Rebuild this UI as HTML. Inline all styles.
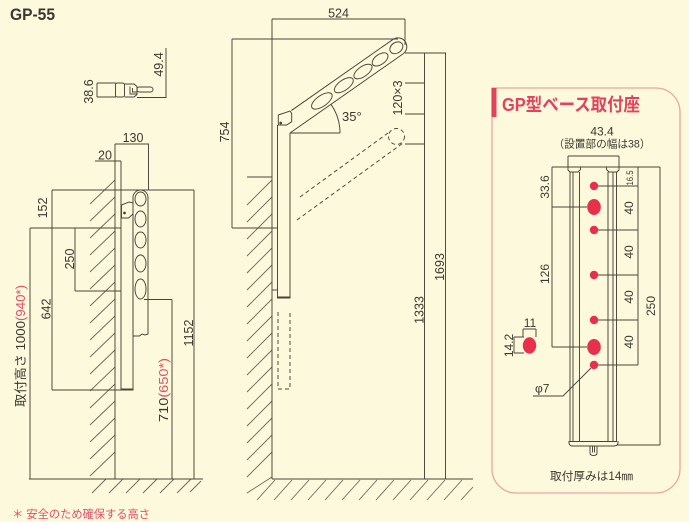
<!DOCTYPE html>
<html><head><meta charset="utf-8"><style>
html,body{margin:0;padding:0;background:#fdf9dd;}
svg{display:block;}
text{font-family:"Liberation Sans","Noto Sans CJK JP",sans-serif;fill:#3b3830;}
</style></head><body>
<svg xmlns="http://www.w3.org/2000/svg" width="689" height="522" viewBox="0 0 689 522">
<rect width="689" height="522" fill="#fdf9dd"/>
<text x="10" y="20" font-size="17" font-weight="bold" textLength="45" lengthAdjust="spacingAndGlyphs">GP-55</text>

<!-- hatching -->
<g stroke="#6e6656" stroke-width="0.9" fill="none">
<path d="M90 204L115 180M90 221L115 197M90 238L115 214M90 255L115 231M90 272L115 248M90 289L115 265M90 306L115 282M90 323L115 299M90 340L115 316M90 357L115 333M90 374L115 350M90 391L115 367M90 408L115 384M90 425L115 401M90 442L115 418M90 459L115 435M90 476L115 452M92 493L106 479M109 493L123 479M126 493L140 479M143 493L157 479M160 493L174 479M177 493L191 479M190 492L201 481"/>
<path d="M247 205L272 180M247 222L272 197M247 239L272 214M247 256L272 231M247 273L272 248M247 290L272 265M247 307L272 282M247 324L272 299M247 341L272 316M247 358L272 333M247 375L272 350M247 392L272 367M247 409L272 384M247 426L272 401M247 443L272 418M247 460L272 435M247 477L272 452M247 493L272 477M257 500L275 480M274 500L292 480M291 500L309 480M308 500L326 480M325 500L343 480M342 500L360 480M359 500L377 480M376 500L394 480M393 500L411 480M410 500L428 480M427 500L445 480M444 500L462 480M461 500L473 487"/>
</g>

<g stroke="#4a4438" stroke-width="0.95" fill="none">
<!-- top small bracket -->
<path d="M97 83V97M97 83H116M97 97H116"/>
<rect x="115.5" y="83" width="9" height="14" rx="2"/>
<path d="M124.5 84H134L137 86.5V94.5L134 97H124.5"/>
<path d="M130 86.5V94H137M132.5 88V92H137"/>
<rect x="137" y="87" width="16" height="5" rx="2.5"/>
<path d="M137 97.5H166M166 48V98"/>

<!-- left elevation -->
<path d="M115 144V479M115 144H149M148.5 144V190"/>
<path d="M95 161H121M121 161V390"/>
<path d="M52 190H194M30 228H121M75 291H121M52 390H133"/>
<path d="M30 228V479M52 190V390M75 228V291"/>
<path d="M144 299.5H172M172 299.5V479M194 190V479"/>
<path d="M29 479H203"/>
<path d="M133 218V390"/>
<path d="M121 389.5H133.5" stroke-width="2"/>
<path d="M133 336V197.5A7.5 7.5 0 0 1 148 197.5V334L145 335L142 334L139.5 336Z"/>
<ellipse cx="140.5" cy="199" rx="5.5" ry="7"/>
<ellipse cx="140.5" cy="219" rx="5.5" ry="8"/>
<ellipse cx="140.5" cy="240" rx="5.5" ry="8"/>
<ellipse cx="140.5" cy="263.5" rx="5.5" ry="8.5"/>
<ellipse cx="140.5" cy="289" rx="5.5" ry="10"/>
<path d="M121.5 205L129 202L133 203V214L128.5 218H121.5Z" fill="#fdf9dd"/>
<circle cx="124.5" cy="213" r="0.9" fill="#4a4438"/>
<path d="M115 228H121M115 291H121"/>

<!-- middle elevation -->
<path d="M272 19H405M272 19V479M405 19V45"/>
<path d="M232 39H398M232 39V228M232 228H277.5"/>
<path d="M247 177H272"/>
<path d="M272 479H473"/>
<path d="M405 53H446M445.5 53V479M405 83H424.5M405 114H424.5M405 144H424.5M424.5 53V479"/>
<path d="M277.5 125V298M290 133V298"/>
<path d="M277 297.5H290.5" stroke-width="2"/>
<path d="M272 290H277.5"/>
<path d="M278 312V389H290V312" stroke-dasharray="4 3"/>
<g transform="translate(290 133) rotate(-35)">
<path d="M0 0H138A8.8 8.8 0 0 0 138 -17.6H14"/>
<ellipse cx="44.5" cy="-8" rx="12" ry="5.4"/>
<ellipse cx="71.5" cy="-8.3" rx="11" ry="5.1"/>
<ellipse cx="95" cy="-8.5" rx="10.5" ry="5"/>
<ellipse cx="116" cy="-8.6" rx="9" ry="5"/>
<ellipse cx="136" cy="-8.8" rx="7" ry="5.3"/>
</g>
<path d="M278.3 115L290 111L291.7 113.3V121.7L286.7 125H278.3Z" fill="#fdf9dd"/>
<circle cx="280.7" cy="123" r="0.9" fill="#4a4438"/>
<path d="M290 133H340"/>
<path d="M340 133A50 50 0 0 0 331 104.3"/>
<g stroke-dasharray="4 3">
<path d="M300 197L388 133"/>
<path d="M297 220L403 143"/>
<circle cx="396.5" cy="136.5" r="8"/>
</g>

<!-- right panel: base plate -->
<path d="M568 156H619M568 156V167M619 156V167"/>
<path d="M552 167H660"/>
<path d="M568 167V170L570 172H578L580.5 169.5V167M619 167V170L617 172H609L606.5 169.5V167"/>
<path d="M570 172V442M573 172V442M579.5 172V441.5M608 172V441.5M613 172V442M616.5 172V442"/>
<path d="M570 441.5H617"/>
<path d="M569 441Q568.5 446 572.5 446H614Q618.5 446 618 441"/>
<path d="M590 446V453Q590 455.5 593.5 455.5Q597 455.5 597 453V446M592.5 446V452.5M594.5 446V452.5"/>
<path d="M552 167V347M552 207H587M552 347H587"/>
<path d="M638 167V365M594 186H638M594 230H638M594 275H638M594 320H638M594 365H638"/>
<path d="M660 167V445M617 445H660"/>
<path d="M533 396H563L591 368"/>
<path d="M523 329H536M523 329V337M536 329V337"/>
<path d="M514 337V353M514 337H524M514 353H524"/>
</g>

<!-- right panel frame -->
<path d="M492 88H656A24 24 0 0 1 680 112V469A24 24 0 0 1 656 493H516A24 24 0 0 1 492 469V88Z" stroke="#eba6a2" stroke-width="1.3" fill="none"/>
<rect x="491.5" y="88" width="5" height="29" fill="#e3425e"/>
<text x="502" y="111" font-size="18" font-weight="bold" fill="#e3425e" style="fill:#e3425e" textLength="138" lengthAdjust="spacingAndGlyphs">GP型ベース取付座</text>

<!-- red holes -->
<g fill="#e8304c">
<circle cx="594" cy="186" r="4.2"/>
<circle cx="594" cy="230" r="4.2"/>
<circle cx="594" cy="275" r="4.2"/>
<circle cx="594" cy="320" r="4.2"/>
<circle cx="594" cy="365" r="4.2"/>
<ellipse cx="594" cy="207" rx="6.8" ry="8"/>
<ellipse cx="594" cy="347" rx="6.8" ry="8"/>
<ellipse cx="529.5" cy="345.5" rx="6.7" ry="8.2"/>
</g>

<!-- labels left -->
<g font-size="12.5">
<text transform="translate(93 91.5) rotate(-90)" text-anchor="middle">38.6</text>
<text transform="translate(163 64.5) rotate(-90)" text-anchor="middle">49.4</text>
<text x="133" y="142" text-anchor="middle">130</text>
<text x="105" y="159.5" text-anchor="middle">20</text>
<text transform="translate(47 208) rotate(-90)" text-anchor="middle">152</text>
<text transform="translate(74 259) rotate(-90)" text-anchor="middle">250</text>
<text transform="translate(50.5 309) rotate(-90)" text-anchor="middle">642</text>
<text transform="translate(193 333) rotate(-90)" text-anchor="middle">1152</text>
<text transform="translate(168 390) rotate(-90)" text-anchor="middle" textLength="64" lengthAdjust="spacingAndGlyphs">710<tspan style="fill:#e05068">(650*)</tspan></text>
<text transform="translate(25 346) rotate(-90)" text-anchor="middle" textLength="122" lengthAdjust="spacingAndGlyphs">取付高さ 1000<tspan style="fill:#e05068">(940*)</tspan></text>
<text x="338.5" y="17.5" text-anchor="middle">524</text>
<text transform="translate(229 132) rotate(-90)" text-anchor="middle">754</text>
<text x="342" y="121" font-size="13">35°</text>
<text transform="translate(402 98) rotate(-90)" text-anchor="middle">120×3</text>
<text transform="translate(423.5 310) rotate(-90)" text-anchor="middle">1333</text>
<text transform="translate(444 267) rotate(-90)" text-anchor="middle">1693</text>
</g>
<text x="12" y="518" font-size="11.5" style="fill:#e05068" textLength="138" lengthAdjust="spacingAndGlyphs">＊ 安全のため確保する高さ</text>

<!-- labels right -->
<g font-size="12">
<text x="602" y="135.5" text-anchor="middle">43.4</text>
<text x="602" y="147.5" text-anchor="middle" font-size="11" textLength="97" lengthAdjust="spacingAndGlyphs">（設置部の幅は38）</text>
<text transform="translate(549 187) rotate(-90)" text-anchor="middle">33.6</text>
<text transform="translate(633 178) rotate(-90)" text-anchor="middle" font-size="9" textLength="15" lengthAdjust="spacingAndGlyphs">16.5</text>
<text transform="translate(633 208) rotate(-90)" text-anchor="middle">40</text>
<text transform="translate(633 252) rotate(-90)" text-anchor="middle">40</text>
<text transform="translate(633 297) rotate(-90)" text-anchor="middle">40</text>
<text transform="translate(633 342) rotate(-90)" text-anchor="middle">40</text>
<text transform="translate(549 274) rotate(-90)" text-anchor="middle">126</text>
<text transform="translate(655 306) rotate(-90)" text-anchor="middle">250</text>
<text x="530" y="327" text-anchor="middle">11</text>
<text transform="translate(513 345.5) rotate(-90)" text-anchor="middle">14.2</text>
<text x="535" y="392.5">φ7</text>
<text x="550" y="480" font-size="11.5" textLength="83" lengthAdjust="spacingAndGlyphs">取付厚みは14㎜</text>
</g>
</svg>
</body></html>
